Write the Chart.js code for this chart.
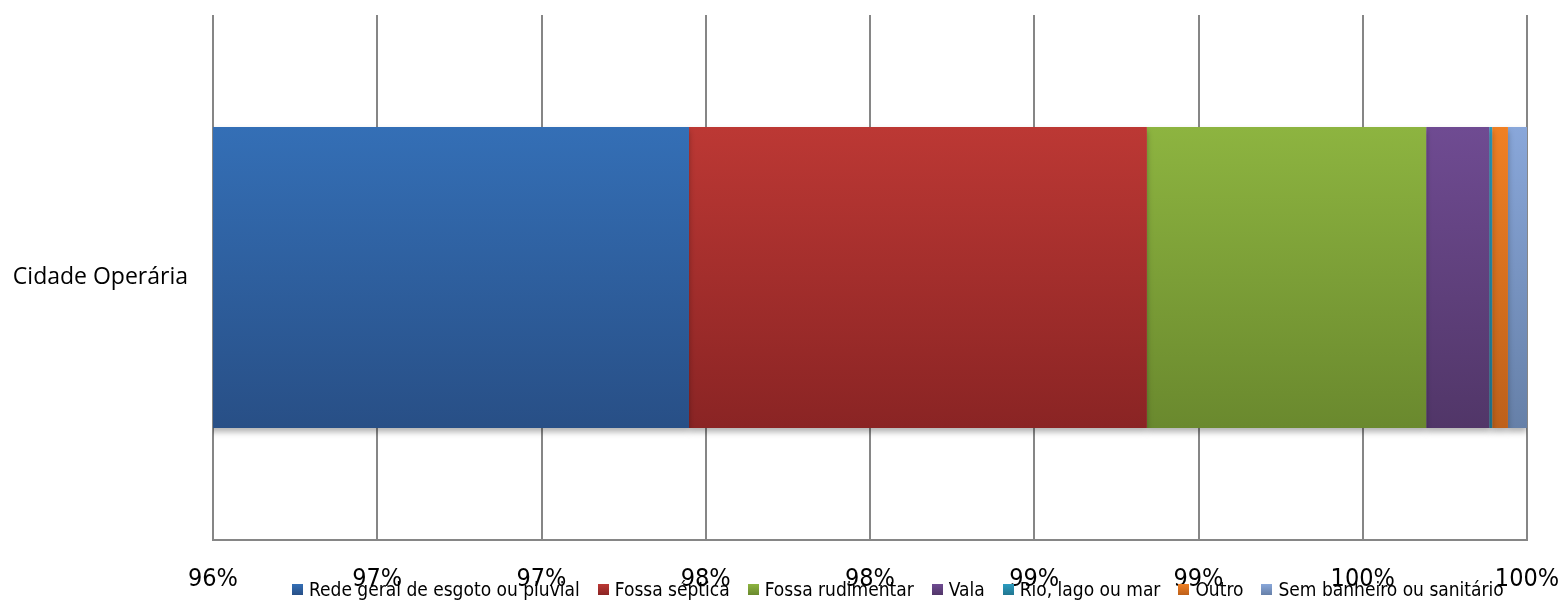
<!DOCTYPE html>
<html>
<head>
<meta charset="utf-8">
<script src="https://cdn.jsdelivr.net/npm/chart.js@4.4.1/dist/chart.umd.min.js"></script>
<style>
  html, body { margin: 0; padding: 0; background: #fff; }
  #wrap { position: relative; width: 1563px; height: 602px; }
  #legend { position: absolute; left: 292px; top: 578px; display: flex; align-items: center;
            font-family: "Liberation Sans Narrow", "DejaVu Sans Condensed", sans-serif; font-size: 19px; color: #000; white-space: nowrap; }
  #legend .item { display: flex; align-items: center; margin-right: 18px; }
  #legend .box { width: 11px; height: 11px; margin-right: 6px; }
</style>
</head>
<body>
<div id="wrap">
  <canvas id="c" width="1563" height="602"></canvas>
  <div id="legend"></div>
</div>
<script>
const categories = ["Cidade Operária"];
const seriesNames = ["Rede geral de esgoto ou pluvial", "Fossa séptica", "Fossa rudimentar", "Vala", "Rio, lago ou mar", "Outro", "Sem banheiro ou sanitário"];
const rede = [97.449];
const fossaSeptica = [1.394];
const fossaRudimentar = [0.850];
const vala = [0.192];
const rio = [0.009];
const outro = [0.048];
const semBanheiro = [0.058];
const axisMin = 96;
const axisMax = 100;
const axisStep = 0.5;

const seriesValues = [rede, fossaSeptica, fossaRudimentar, vala, rio, outro, semBanheiro];
const colorsTop = ["#346FB6", "#BC3834", "#8DB440", "#6F4B92", "#2B9CC0", "#F08024", "#89A7DA"];
const colorsBottom = ["#284F86", "#8A2424", "#6A892E", "#513668", "#217690", "#BD601A", "#6680A8"];
const barFrac = 0.573;

function gradFor(i) {
  return function (c) {
    const chart = c.chart;
    const a = chart.chartArea;
    if (!a || !chart.scales.y) return colorsTop[i];
    const cy = chart.scales.y.getPixelForValue(0);
    const h = (a.bottom - a.top) * barFrac;
    const g = chart.ctx.createLinearGradient(0, cy - h / 2, 0, cy + h / 2);
    g.addColorStop(0, colorsTop[i]);
    g.addColorStop(1, colorsBottom[i]);
    return g;
  };
}

const shadowPlugin = {
  id: 'shadow',
  beforeDatasetsDraw(chart) {
    const ctx = chart.ctx;
    ctx.save();
    ctx.shadowColor = 'rgba(0,0,0,0.3)';
    ctx.shadowBlur = 6;
    ctx.shadowOffsetY = 4;
  },
  afterDatasetsDraw(chart) {
    chart.ctx.restore();
  }
};

const chart = new Chart(document.getElementById('c'), {
  type: 'bar',
  data: {
    labels: categories,
    datasets: seriesNames.map((n, i) => ({
      label: n,
      data: seriesValues[i],
      backgroundColor: gradFor(i),
      borderWidth: 0,
      barPercentage: barFrac,
      categoryPercentage: 1
    }))
  },
  options: {
    indexAxis: 'y',
    responsive: false,
    animation: false,
    layout: { padding: { top: 15, right: 36, left: 0, bottom: 0 } },
    plugins: { legend: { display: false }, tooltip: { enabled: false } },
    scales: {
      x: {
        stacked: true,
        min: axisMin,
        max: axisMax,
        ticks: {
          stepSize: axisStep,
          color: '#000',
          font: { family: '"Liberation Sans Narrow", "DejaVu Sans Condensed", sans-serif', size: 25 },
          padding: 24,
          maxRotation: 0,
          autoSkip: false,
          callback: (v) => Math.round(v) + '%'
        },
        grid: { color: '#868686', lineWidth: 2, drawTicks: false },
        border: { color: '#868686', width: 2 },
        afterFit(s) { s.height = 62; s.paddingLeft = 0; s.paddingRight = 0; s.paddingTop = 0; s.paddingBottom = 0; }
      },
      y: {
        stacked: true,
        ticks: {
          color: '#000',
          font: { family: '"Open Sans", sans-serif', size: 23 },
          padding: 25
        },
        grid: { display: false, drawTicks: false },
        border: { display: false },
        afterFit(s) { s.width = 213; s.paddingTop = 0; s.paddingBottom = 0; s.paddingLeft = 0; s.paddingRight = 0; }
      }
    }
  },
  plugins: [shadowPlugin]
});

const leg = document.getElementById('legend');
seriesNames.forEach((n, i) => {
  const it = document.createElement('div');
  it.className = 'item';
  const b = document.createElement('div');
  b.className = 'box';
  b.style.background = 'linear-gradient(' + colorsTop[i] + ',' + colorsBottom[i] + ')';
  const t = document.createElement('span');
  t.textContent = n;
  it.appendChild(b); it.appendChild(t);
  leg.appendChild(it);
});
</script>
</body>
</html>
